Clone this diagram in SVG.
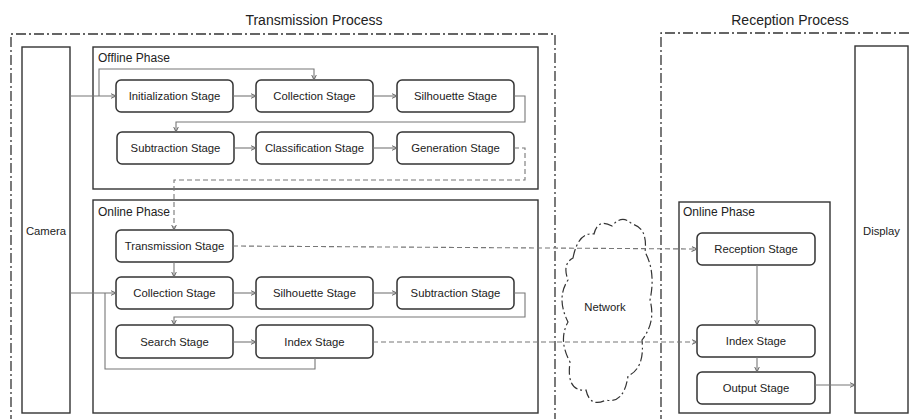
<svg xmlns="http://www.w3.org/2000/svg" width="911" height="419" viewBox="0 0 911 419">
  <style>
    text { font-family: "Liberation Sans", Arial, sans-serif; fill: #222; }
    .title { font-size: 14px; text-anchor: middle; }
    .label { font-size: 11.3px; text-anchor: middle; dominant-baseline: central; }
    .phase-label { font-size: 12px; }
    .process { fill: none; stroke: #333; stroke-width: 1.3; stroke-dasharray: 10 3 2 3; }
    .phase { fill: #fff; stroke: #333; stroke-width: 1.4; }
    .device { fill: #fff; stroke: #333; stroke-width: 1.4; }
    .stage { fill: #fff; stroke: #333; stroke-width: 1.5; }
    .link { fill: none; stroke: #777; stroke-width: 1.1; }
    .dashed { stroke-dasharray: 5 3; }
    .cloud { fill: none; stroke: #333; stroke-width: 1.2; stroke-dasharray: 9 3 2 3; }
  </style>
  <defs>
    <marker id="arrow" markerUnits="userSpaceOnUse" markerWidth="8" markerHeight="8" refX="5.5" refY="3" orient="auto">
      <path d="M0,0.5 L5.5,3 L0,5.5" fill="none" stroke="#666" stroke-width="1"/>
    </marker>
  </defs>

  <rect width="911" height="419" fill="#fff"/>

  <!-- process frames -->
  <text class="title" x="314" y="25">Transmission Process</text>
  <text class="title" x="790" y="25">Reception Process</text>
  <path class="process" d="M11,425 V34 H555 V425"/>
  <path class="process" d="M661,425 V33 H915"/>

  <!-- devices -->
  <g id="camera">
    <rect class="device" x="22" y="47" width="48" height="366"/>
    <text class="label" x="46" y="231">Camera</text>
  </g>
  <g id="display">
    <rect class="device" x="855" y="46" width="53" height="367"/>
    <text class="label" x="881.5" y="231">Display</text>
  </g>

  <!-- phase containers -->
  <g id="offline-phase">
    <rect class="phase" x="93" y="47" width="445" height="142"/>
    <text class="phase-label" x="98" y="62">Offline Phase</text>
  </g>
  <g id="online-phase-tx">
    <rect class="phase" x="93" y="200" width="445" height="213"/>
    <text class="phase-label" x="98" y="216">Online Phase</text>
  </g>
  <g id="online-phase-rx">
    <rect class="phase" x="679" y="202" width="151" height="211"/>
    <text class="phase-label" x="683" y="216">Online Phase</text>
  </g>

  <!-- network cloud (outline only, links pass through it) -->
  <g id="network">
    <path class="cloud" d="M573,258 Q578,232 594,234 Q598,218 612,226 Q622,214 632,224 Q648,228 645,252 Q656,272 650,300 Q656,322 642,340 Q645,368 628,376 Q624,404 606,400 Q590,408 586,390 Q566,392 570,362 Q558,340 568,322 Q556,298 568,280 Q562,264 573,258 Z"/>
    <text class="label" x="605" y="307">Network</text>
  </g>

  <!-- offline stages -->
  <g id="off-initialization">
    <rect class="stage" x="116" y="80" width="117" height="32" rx="5"/>
    <text class="label" x="174.5" y="96">Initialization Stage</text>
  </g>
  <g id="off-collection">
    <rect class="stage" x="256" y="80" width="117" height="32" rx="5"/>
    <text class="label" x="314.5" y="96">Collection Stage</text>
  </g>
  <g id="off-silhouette">
    <rect class="stage" x="397" y="80" width="117" height="32" rx="5"/>
    <text class="label" x="455.5" y="96">Silhouette Stage</text>
  </g>
  <g id="off-subtraction">
    <rect class="stage" x="117" y="132" width="117" height="32" rx="5"/>
    <text class="label" x="175.5" y="148">Subtraction Stage</text>
  </g>
  <g id="off-classification">
    <rect class="stage" x="256" y="132" width="117" height="32" rx="5"/>
    <text class="label" x="314.5" y="148">Classification Stage</text>
  </g>
  <g id="off-generation">
    <rect class="stage" x="397" y="132" width="117" height="32" rx="5"/>
    <text class="label" x="455.5" y="148">Generation Stage</text>
  </g>

  <!-- online stages (transmission side) -->
  <g id="on-transmission">
    <rect class="stage" x="116" y="230" width="117" height="32" rx="5"/>
    <text class="label" x="174.5" y="246">Transmission Stage</text>
  </g>
  <g id="on-collection">
    <rect class="stage" x="116" y="277" width="117" height="32" rx="5"/>
    <text class="label" x="174.5" y="293">Collection Stage</text>
  </g>
  <g id="on-silhouette">
    <rect class="stage" x="256" y="277" width="117" height="32" rx="5"/>
    <text class="label" x="314.5" y="293">Silhouette Stage</text>
  </g>
  <g id="on-subtraction">
    <rect class="stage" x="397" y="277" width="117" height="32" rx="5"/>
    <text class="label" x="455.5" y="293">Subtraction Stage</text>
  </g>
  <g id="on-search">
    <rect class="stage" x="116" y="325" width="117" height="33" rx="5"/>
    <text class="label" x="174.5" y="342">Search Stage</text>
  </g>
  <g id="on-index">
    <rect class="stage" x="256" y="325" width="117" height="33" rx="5"/>
    <text class="label" x="314.5" y="342">Index Stage</text>
  </g>

  <!-- online stages (reception side) -->
  <g id="rx-reception">
    <rect class="stage" x="697" y="233" width="118" height="32" rx="5"/>
    <text class="label" x="756" y="249">Reception Stage</text>
  </g>
  <g id="rx-index">
    <rect class="stage" x="697" y="325" width="118" height="32" rx="5"/>
    <text class="label" x="756" y="341">Index Stage</text>
  </g>
  <g id="rx-output">
    <rect class="stage" x="697" y="372" width="118" height="32" rx="5"/>
    <text class="label" x="756" y="388">Output Stage</text>
  </g>

  <!-- connectors -->
  <g id="connectors">
    <path class="link" d="M70,96 H116" marker-end="url(#arrow)"/>
    <path class="link" d="M99,96 V69 H314 V80" marker-end="url(#arrow)"/>
    <path class="link" d="M233,96 H256" marker-end="url(#arrow)"/>
    <path class="link" d="M373,96 H397" marker-end="url(#arrow)"/>
    <path class="link" d="M514,96 H525 V122 H176 V132" marker-end="url(#arrow)"/>
    <path class="link" d="M234,148 H256" marker-end="url(#arrow)"/>
    <path class="link" d="M373,148 H397" marker-end="url(#arrow)"/>
    <path class="link dashed" d="M514,148 H525 V180 H174 V230" marker-end="url(#arrow)"/>

    <path class="link" d="M174,262 V277" marker-end="url(#arrow)"/>
    <path class="link" d="M70,293 H116" marker-end="url(#arrow)"/>
    <path class="link" d="M315,358 V369 H105 V293"/>
    <path class="link" d="M233,293 H256" marker-end="url(#arrow)"/>
    <path class="link" d="M373,293 H397" marker-end="url(#arrow)"/>
    <path class="link" d="M514,293 H525 V317 H174 V325" marker-end="url(#arrow)"/>
    <path class="link" d="M233,342 H256" marker-end="url(#arrow)"/>

    <path class="link dashed" d="M233,246 L697,249" marker-end="url(#arrow)"/>
    <path class="link dashed" d="M373,342 H697" marker-end="url(#arrow)"/>

    <path class="link" d="M757,265 V325" marker-end="url(#arrow)"/>
    <path class="link" d="M757,357 V372" marker-end="url(#arrow)"/>
    <path class="link" d="M815,385 H855" marker-end="url(#arrow)"/>
  </g>
</svg>
